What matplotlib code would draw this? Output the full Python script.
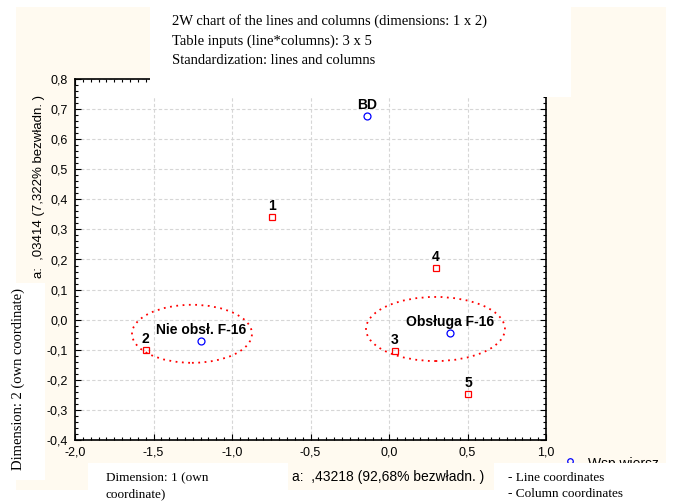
import matplotlib.pyplot as plt
from matplotlib.patches import Ellipse, Rectangle

# row profiles (blue circles)
row_labels = ["BD", "Nie obsł. F-16", "Obsługa F-16"]
row_x = [-0.142, -1.199, 0.390]
row_y = [0.678, -0.070, -0.045]

# column profiles (red squares)
col_labels = ["1", "2", "3", "4", "5"]
col_x = [-0.745, -1.550, 0.038, 0.299, 0.503]
col_y = [0.342, -0.101, -0.103, 0.172, -0.246]

# dotted groupings: centre x, centre y, width, height
group_cx = [-1.255, 0.296]
group_cy = [-0.047, -0.031]
group_w = [0.764, 0.885]
group_h = [0.193, 0.213]

x_ticks = [-2.0, -1.5, -1.0, -0.5, 0.0, 0.5, 1.0]
y_ticks = [-0.4, -0.3, -0.2, -0.1, 0.0, 0.1, 0.2, 0.3, 0.4, 0.5, 0.6, 0.7, 0.8]

title_lines = [
    "2W chart of the lines and columns (dimensions: 1 x 2)",
    "Table inputs (line*columns): 3 x 5",
    "Standardization: lines and columns",
]

W, H = 674, 503
CREAM = "#fffaf0"
SANS = "Liberation Sans"
SERIF = "Liberation Serif"

fig = plt.figure(figsize=(W / 100, H / 100), dpi=100)
fig.patch.set_facecolor("white")


def box(x0, y0, x1, y1, color, z):
    r = Rectangle((x0 / W, 1 - y1 / H), (x1 - x0) / W, (y1 - y0) / H,
                  transform=fig.transFigure, facecolor=color,
                  edgecolor="none", zorder=z)
    fig.add_artist(r)


def ftext(x, y, s, z=6, **kw):
    fig.text(x / W, 1 - y / H, s, zorder=z, **kw)


# background panels
box(16, 7, 666, 463, CREAM, -2)
box(16, 463, 88, 490, CREAM, -2)

ax = fig.add_axes([75 / W, 1 - 440 / H, 471 / W, 361 / H])
ax.set_facecolor("white")
ax.set_xlim(-2.0, 1.0)
ax.set_ylim(-0.4, 0.8)
ax.set_xticks(x_ticks)
ax.set_yticks(y_ticks)
ax.set_xticks([i * 0.05 - 2.0 for i in range(61)], minor=True)
ax.set_yticks([i * 0.02 - 0.4 for i in range(61)], minor=True)
ax.set_xticklabels([f"{v:.1f}".replace(".", ",") for v in x_ticks],
                   family=SANS, fontsize=9)
ax.set_yticklabels([f"{v:.1f}".replace(".", ",") for v in y_ticks],
                   family=SANS, fontsize=9)
ax.tick_params(which="both", direction="in", top=True, right=True,
               width=0.8, color="black")
ax.tick_params(which="major", length=4, pad=5)
ax.tick_params(which="minor", length=2)
for sp in ax.spines.values():
    sp.set_linewidth(1.2)
ax.grid(True, which="major", color="#d6d6d6", linestyle=(0, (3, 2)),
        linewidth=0.8)
ax.set_axisbelow(True)

ax.plot(col_x, col_y, linestyle="none", marker="s", markersize=5,
        markerfacecolor="none", markeredgecolor="red", markeredgewidth=0.9)
ax.plot(row_x, row_y, linestyle="none", marker="o", markersize=5,
        markerfacecolor="none", markeredgecolor="blue", markeredgewidth=0.9)

for lab, x, y in zip(col_labels + row_labels, col_x + row_x, col_y + row_y):
    ax.annotate(lab, (x, y), xytext=(0, 8), textcoords="offset points",
                ha="center", va="center", family=SANS, fontsize=10,
                fontweight="bold")

for cx, cy, w, h in zip(group_cx, group_cy, group_w, group_h):
    ax.add_patch(Ellipse((cx, cy), w, h, fill=False, edgecolor="red",
                         linestyle=(0, (1, 2.5)), linewidth=1.3))

# legend entry, cut off by the panel below
ax.plot([570 / W], [1 - 461 / H], transform=fig.transFigure, marker="o",
        markersize=4, markerfacecolor="none", markeredgecolor="blue",
        markeredgewidth=0.9, clip_on=False, zorder=4)
ftext(588, 464, "Wsp wiersz", z=4, family=SANS, fontsize=10, va="center")

# overlay panels
box(150, 0, 571, 97, "white", 5)
box(0, 283, 45, 480, "white", 5)
box(88, 463, 265, 503, "white", 5)
box(440, 463, 674, 503, "white", 5)
box(288, 463, 494, 490, CREAM, 5)

# panel texts
for i, line in enumerate(title_lines):
    ftext(172, 21 + i * 20, line, family=SERIF, fontsize=10.5, va="center")

ftext(39, 186, "a:  ,03414 (7,322% bezwładn. )", z=4, family=SANS,
      fontsize=9.5, rotation=90, ha="center", va="center")
ftext(18, 379, "Dimension: 2 (own coordinate)", family=SERIF,
      fontsize=10.5, rotation=90, ha="center", va="center")

ftext(106, 478, "Dimension: 1 (own", family=SERIF, fontsize=9.5, va="center")
ftext(106, 494, "coordinate)", family=SERIF, fontsize=9.5, va="center")
ftext(292, 477, "a:  ,43218 (92,68% bezwładn. )", family=SANS, fontsize=10,
      va="center")
ftext(508, 478, "- Line coordinates", family=SERIF, fontsize=9.5,
      va="center")
ftext(508, 494, "- Column coordinates", family=SERIF, fontsize=9.5,
      va="center")

fig.savefig("out.png", dpi=100)
